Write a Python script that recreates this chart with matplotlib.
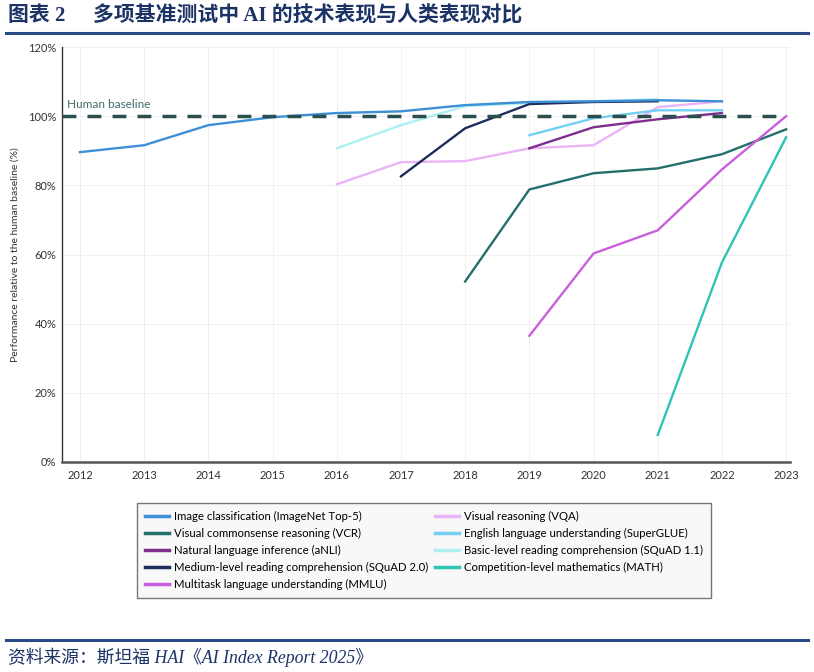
import matplotlib
matplotlib.use("Agg")
import matplotlib.pyplot as plt
from matplotlib.ticker import FuncFormatter

# years shared by all series
years = list(range(2012, 2024))

# values (% of human baseline)
imagenet = [89.6, 91.6, 97.4, 99.7, 100.9, 101.4, 103.2, 104.1, 104.3, 104.6, 104.3]
imagenet_years = list(range(2012, 2023))
vcr = [52.2, 78.8, 83.5, 84.9, 89.0, 96.2]
vcr_years = list(range(2018, 2024))
anli = [90.7, 96.8, 99.1, 100.9]
anli_years = list(range(2019, 2023))
squad2 = [82.6, 96.5, 103.5, 104.1, 104.3]
squad2_years = list(range(2017, 2022))
mmlu = [36.5, 60.3, 67.0, 84.6, 100.0]
mmlu_years = list(range(2019, 2024))
vqa = [80.3, 86.7, 87.0, 90.7, 91.6, 102.6, 104.3]
vqa_years = list(range(2016, 2023))
superglue = [94.5, 99.4, 101.7, 101.7]
superglue_years = list(range(2019, 2023))
squad1 = [90.7, 97.4, 102.9, 103.8, 104.3, 104.9]
squad1_years = list(range(2016, 2022))
math_ = [7.8, 57.7, 93.9]
math_years = list(range(2021, 2024))

series = [
    ("Image classification (ImageNet Top-5)", imagenet_years, imagenet, "#3d8fd6"),
    ("Visual commonsense reasoning (VCR)", vcr_years, vcr, "#236f6c"),
    ("Natural language inference (aNLI)", anli_years, anli, "#7d2e8f"),
    ("Medium-level reading comprehension (SQuAD 2.0)", squad2_years, squad2, "#1f2d5a"),
    ("Multitask language understanding (MMLU)", mmlu_years, mmlu, "#c95fdc"),
    ("Visual reasoning (VQA)", vqa_years, vqa, "#ebb4f8"),
    ("English language understanding (SuperGLUE)", superglue_years, superglue, "#74cff4"),
    ("Basic-level reading comprehension (SQuAD 1.1)", squad1_years, squad1, "#aeeff0"),
    ("Competition-level mathematics (MATH)", math_years, math_, "#2ec4b8"),
]
# draw order (back to front) so the top cluster overlaps like the original
draw_order = [7, 5, 6, 2, 1, 4, 8, 3, 0]

font = "Lato"
navy = "#1c3366"
cjk = ["Liberation Serif", "Noto Sans CJK SC"]

fig = plt.figure(figsize=(8.14, 6.72), dpi=100)
ax = fig.add_axes([62/814, 1-462/672, (790-62)/814, (462-47)/672])

lines = {}
for k, i in enumerate(draw_order):
    name, xs, ys, col = series[i]
    ln, = ax.plot(xs, ys, color=col, lw=1.7, label=name, zorder=3 + k*0.1)
    lines[i] = ln

ax.axhline(100, xmin=0, xmax=(2023-2011.72)/(2023.06-2011.72), color="#2b4f4f", lw=2.5,
           dashes=(4, 3.2), zorder=5)
ax.text(2011.8, 101.8, "Human baseline", fontsize=8.5, color="#3f6c6c", family=font, va="bottom")

ax.set_xlim(2011.72, 2023.06)
ax.set_ylim(0, 120)
ax.set_xticks(years)
ax.set_yticks(range(0, 121, 20))
ax.yaxis.set_major_formatter(FuncFormatter(lambda v, p: f"{int(v)}%"))
ax.tick_params(length=0, labelsize=8, colors="#333333", pad=4)
ax.tick_params(axis="x", pad=6)
for lab in ax.get_xticklabels() + ax.get_yticklabels():
    lab.set_family(font)
ax.grid(color="#f0f0f0", lw=0.7, zorder=0)
for s in ["top", "right"]:
    ax.spines[s].set_visible(False)
ax.spines["left"].set_color("#333333")
ax.spines["left"].set_linewidth(1.0)
ax.spines["bottom"].set_color("#555555")
ax.spines["bottom"].set_linewidth(1.8)
ax.set_ylabel("Performance relative to the human baseline (%)", fontsize=7.5, family=font,
              color="#333333")
ax.yaxis.set_label_coords((20-62)/728, 0.5)

handles = [lines[i] for i in range(len(series))]
labels = [s[0] for s in series]
leg = fig.legend(handles, labels, ncol=2, loc="upper left",
                 bbox_to_anchor=(137/814, 1-503/672), frameon=True, fancybox=False,
                 prop={"family": font, "size": 8.2}, handlelength=2.1, handletextpad=0.45,
                 columnspacing=0.6, labelspacing=0.52, borderpad=0.7, borderaxespad=0)
leg.get_frame().set_edgecolor("#555555")
leg.get_frame().set_facecolor("#f7f7f7")
leg.get_frame().set_linewidth(1.0)
for h in leg.get_lines():
    h.set_linewidth(2.5)

# title and source, report style
fig.text(8/814, 1-16/672, "图表 2", fontsize=15, fontweight="bold", color=navy,
         va="center", family=cjk)
fig.text(93/814, 1-16/672, "多项基准测试中 AI 的技术表现与人类表现对比", fontsize=15,
         fontweight="bold", color=navy, va="center", family=cjk)
fig.add_artist(plt.Line2D([6/814, 808/814], [1-33/672, 1-33/672], color="#2a4a85", lw=2.2))
fig.add_artist(plt.Line2D([6/814, 808/814], [1-640/672, 1-640/672], color="#2a4a85", lw=2.2))
fig.text(8/814, 1-657/672, "资料来源：斯坦福 HAI《AI Index Report 2025》", fontsize=12.8,
         style="italic", color=navy, va="center", family=cjk)

fig.savefig("out.png", dpi=100)
